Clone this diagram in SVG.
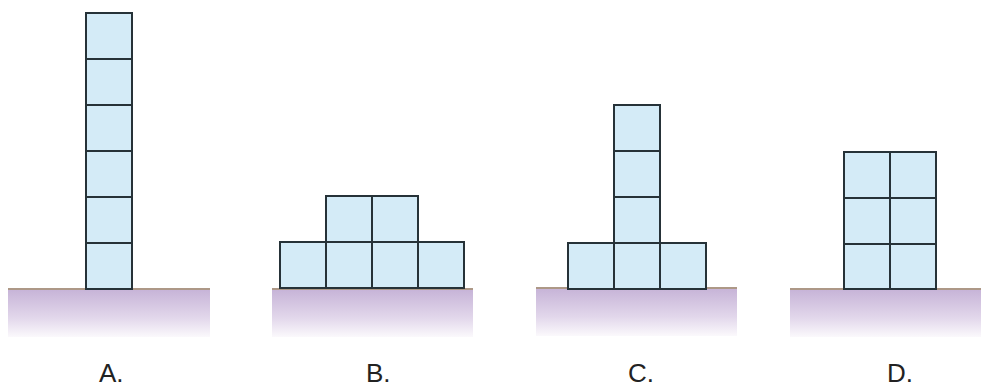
<svg xmlns="http://www.w3.org/2000/svg" width="981" height="389" viewBox="0 0 981 389">
<defs>
<linearGradient id="g" x1="0" y1="0" x2="0" y2="1">
<stop offset="0" stop-color="#c6b3d7"/>
<stop offset="0.6" stop-color="#e2d7eb"/>
<stop offset="1" stop-color="#fbf9fc"/>
</linearGradient>
</defs>
<style>
.c{fill:#d4ebf7;stroke:#263238;stroke-width:2}
.gr{fill:url(#g)}
.gl{stroke:#ad9887;stroke-width:2}
.t{font-family:"Liberation Sans",Arial,sans-serif;font-size:26px;fill:#222}
</style>
<rect width="981" height="389" fill="#fff"/>
<g id="A">
<rect class="gr" x="8" y="289" width="202" height="48"/>
<line class="gl" x1="8" y1="289" x2="210" y2="289"/>
<rect class="c" x="86" y="13" width="46" height="46"/>
<rect class="c" x="86" y="59" width="46" height="46"/>
<rect class="c" x="86" y="105" width="46" height="46"/>
<rect class="c" x="86" y="151" width="46" height="46"/>
<rect class="c" x="86" y="197" width="46" height="46"/>
<rect class="c" x="86" y="243" width="46" height="46"/>
<text class="t" x="99" y="382">A.</text>
</g>
<g id="B">
<rect class="gr" x="272" y="289" width="201" height="48"/>
<line class="gl" x1="272" y1="289" x2="473" y2="289"/>
<rect class="c" x="326" y="196" width="46" height="46"/>
<rect class="c" x="372" y="196" width="46" height="46"/>
<rect class="c" x="280" y="242" width="46" height="46"/>
<rect class="c" x="326" y="242" width="46" height="46"/>
<rect class="c" x="372" y="242" width="46" height="46"/>
<rect class="c" x="418" y="242" width="46" height="46"/>
<text class="t" x="366" y="382">B.</text>
</g>
<g id="C">
<rect class="gr" x="536" y="288" width="201" height="48"/>
<line class="gl" x1="536" y1="288" x2="737" y2="288"/>
<rect class="c" x="614" y="105" width="46" height="46"/>
<rect class="c" x="614" y="151" width="46" height="46"/>
<rect class="c" x="614" y="197" width="46" height="46"/>
<rect class="c" x="568" y="243" width="46" height="46"/>
<rect class="c" x="614" y="243" width="46" height="46"/>
<rect class="c" x="660" y="243" width="46" height="46"/>
<text class="t" x="628" y="382">C.</text>
</g>
<g id="D">
<rect class="gr" x="790" y="289" width="191" height="48"/>
<line class="gl" x1="790" y1="289" x2="981" y2="289"/>
<rect class="c" x="844" y="152" width="46" height="46"/>
<rect class="c" x="890" y="152" width="46" height="46"/>
<rect class="c" x="844" y="198" width="46" height="46"/>
<rect class="c" x="890" y="198" width="46" height="46"/>
<rect class="c" x="844" y="244" width="46" height="45"/>
<rect class="c" x="890" y="244" width="46" height="45"/>
<text class="t" x="887" y="382">D.</text>
</g>
</svg>
